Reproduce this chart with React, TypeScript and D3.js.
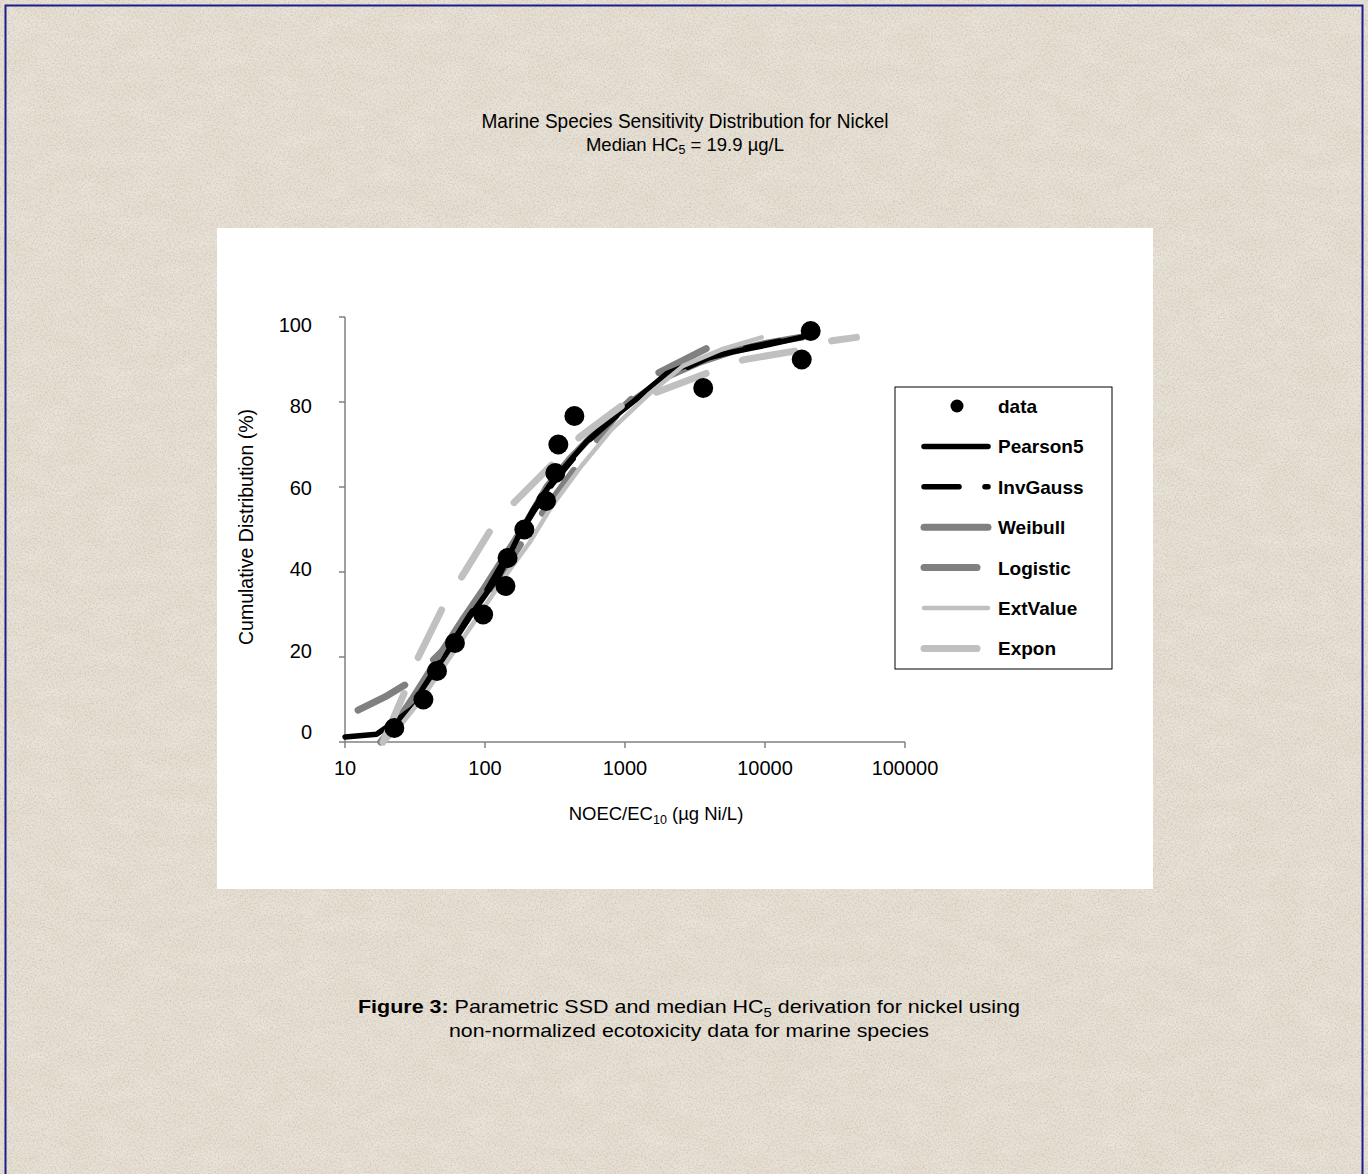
import React from "react";
import * as d3 from "d3";

const W = 1368;
const H = 1174;

// ---- data ----
const xTicks = [10, 100, 1000, 10000, 100000];
const yTicks = [0, 20, 40, 60, 80, 100];

const dataX = [22.5, 36.3, 45.4, 61, 97, 140, 145, 191, 273, 318, 334, 435, 3620, 18300, 21200];
const dataY = [3.3, 10, 16.7, 23.3, 30, 36.7, 43.3, 50, 56.7, 63.3, 70, 76.7, 83.3, 90, 96.7];

const pearson5X = [10, 16.8, 22, 30, 35, 45, 59, 78, 100, 128, 168, 220, 291, 400, 532, 800, 1146, 1986, 3435, 5900, 10280, 18600];
const pearson5Y = [1.2, 1.8, 4.5, 7.8, 10, 16.5, 23.3, 29.5, 34.5, 39.5, 47.5, 54.6, 60.5, 66, 70.7, 76, 80.1, 86.7, 89.9, 91.8, 93.4, 95.3];

const invGaussX = [19, 23, 30, 40, 55, 78, 100, 150, 220, 300, 532, 1000, 2000, 4000, 8000, 16000];
const invGaussY = [0.3, 3.5, 8.5, 15, 22, 30, 35, 45, 54, 60.5, 70.5, 78.5, 86, 90.5, 93, 95];

const weibullX = [18, 22, 30, 40, 50, 70, 100, 150, 200, 276, 400, 600, 1000, 2000, 3500, 6000, 10000, 18600];
const weibullY = [0, 3.5, 10, 16.5, 21.6, 29, 36.5, 45.5, 52, 60, 66.5, 72.5, 79, 86, 89.5, 92, 93.8, 95.3];

const logisticX = [12.4, 19.3, 30, 50, 100, 150, 200, 259, 461, 920, 1720, 4160];
const logisticY = [7.5, 10.6, 14.4, 21.5, 34, 42.5, 49, 54, 65.2, 78, 86.8, 93.2];

const extValueX = [19, 25, 35, 50, 70, 100, 150, 209, 300, 490, 800, 1500, 2600, 5000, 9460];
const extValueY = [0, 4, 10, 17.5, 24.5, 32, 40.5, 47, 55.5, 65, 73.5, 82, 88.5, 92.5, 95.2];

const exponX = [18.7, 27.7, 33.2, 51.8, 68.6, 113, 163, 326, 476, 1080, 1720, 4380, 6960, 17800, 30000, 45000];
const exponY = [0, 13, 19.8, 32.7, 39, 50.6, 56.5, 66.4, 71.8, 80.5, 82.4, 87.5, 89.9, 92.2, 94.4, 95.2];

const seriesNames = ["Pearson5", "InvGauss", "Weibull", "Logistic", "ExtValue", "Expon"];
const seriesXs = [pearson5X, invGaussX, weibullX, logisticX, extValueX, exponX];
const seriesYs = [pearson5Y, invGaussY, weibullY, logisticY, extValueY, exponY];

// ---- styles ----
const seriesStyle: Record<string, { color: string; width: number; dash?: string }> = {
  Pearson5: { color: "#000000", width: 5.5 },
  InvGauss: { color: "#000000", width: 5.5, dash: "35,26" },
  Weibull: { color: "#808080", width: 7 },
  Logistic: { color: "#808080", width: 7, dash: "53,38.5" },
  ExtValue: { color: "#c0c0c0", width: 4.5 },
  Expon: { color: "#c0c0c0", width: 7, dash: "53,38.5" },
};
const drawOrder = ["Weibull", "Logistic", "Pearson5", "InvGauss", "ExtValue", "Expon"];

const fontSans = "'Liberation Sans', Arial, Helvetica, sans-serif";
const fontNarrow = "'Liberation Sans Narrow', 'Arial Narrow', 'Liberation Sans', Arial, sans-serif";

export default function App() {
  const plot = { left: 345, right: 905, top: 317, bottom: 742 };
  const x = d3.scaleLog().domain([10, 100000]).range([plot.left, plot.right]);
  const y = d3.scaleLinear().domain([0, 100]).range([plot.bottom, plot.top]);
  // tick-label placement (labels in the source sit on a slightly tighter spacing)
  const yLab = d3.scaleLinear().domain([0, 100]).range([732, 325]);

  const line = d3
    .line<[number, number]>()
    .x((d) => x(d[0]))
    .y((d) => y(d[1]))
    .curve(d3.curveLinear);

  const paths: Record<string, string> = {};
  seriesNames.forEach((n, i) => {
    const pts = seriesXs[i].map((v, j) => [v, seriesYs[i][j]] as [number, number]);
    paths[n] = line(pts) || "";
  });

  const legend = { x: 895, y: 387, w: 217, h: 282, rowTop: 406, step: 40.4, lineX0: 924, lineX1: 988, textX: 998, dotX: 957 };
  const legendItems = ["data", ...seriesNames];

  return (
    <svg
      width={W}
      height={H}
      viewBox={`0 0 ${W} ${H}`}
      style={{ position: "absolute", left: 0, top: 0, display: "block" }}
    >
      <defs>
        <filter id="paper" x="0" y="0" width="100%" height="100%" filterUnits="userSpaceOnUse">
          <feTurbulence type="fractalNoise" baseFrequency="0.6" numOctaves="3" seed="7" result="n" />
          <feColorMatrix
            in="n"
            type="matrix"
            values="0 0 0 0 0.40  0 0 0 0 0.34  0 0 0 0 0.26  0.8 0 0 0 -0.33"
          />
        </filter>
        <filter id="paper2" x="0" y="0" width="100%" height="100%" filterUnits="userSpaceOnUse">
          <feTurbulence type="fractalNoise" baseFrequency="0.03 0.06" numOctaves="2" seed="3" result="n" />
          <feColorMatrix
            in="n"
            type="matrix"
            values="0 0 0 0 1  0 0 0 0 1  0 0 0 0 1  0.3 0 0 0 -0.1"
          />
        </filter>
      </defs>

      {/* page background */}
      <rect x={0} y={0} width={W} height={H} fill="#e6dfd3" />
      <rect x={0} y={0} width={W} height={H} fill="#fff" filter="url(#paper2)" />
      <rect x={0} y={0} width={W} height={H} fill="#000" filter="url(#paper)" />
      <rect x={5.5} y={5.5} width={1357} height={1200} fill="none" stroke="#1c1c8a" strokeWidth={2} />

      {/* title */}
      <text
        x={685}
        y={128}
        textAnchor="middle"
        fontFamily={fontNarrow}
        fontSize={20}
        fill="#000"
        textLength={407}
        lengthAdjust="spacingAndGlyphs"
      >
        Marine Species Sensitivity Distribution for Nickel
      </text>
      <text x={685} y={151} textAnchor="middle" fontFamily={fontNarrow} fontSize={18.5} fill="#000">
        Median HC
        <tspan dy={3} fontSize={12.5}>5</tspan>
        <tspan dy={-3}> = 19.9 µg/L</tspan>
      </text>

      {/* chart panel */}
      <rect x={217} y={228} width={936} height={661} fill="#ffffff" />

      {/* axes */}
      <g stroke="#808080" strokeWidth={1.5} fill="none">
        <line x1={plot.left} x2={plot.left} y1={plot.top} y2={plot.bottom} />
        <line x1={plot.left} x2={plot.right} y1={plot.bottom} y2={plot.bottom} />
        {yTicks.map((t) => (
          <line key={"yt" + t} x1={plot.left - 6} x2={plot.left} y1={y(t)} y2={y(t)} />
        ))}
        {xTicks.map((t) => (
          <line key={"xt" + t} x1={x(t)} x2={x(t)} y1={plot.bottom} y2={plot.bottom + 6} />
        ))}
      </g>
      {yTicks.map((t) => (
        <text
          key={"yl" + t}
          x={312}
          y={yLab(t) + 7}
          textAnchor="end"
          fontFamily={fontSans}
          fontSize={20}
          fill="#000"
        >
          {t}
        </text>
      ))}
      {xTicks.map((t) => (
        <text
          key={"xl" + t}
          x={x(t)}
          y={775}
          textAnchor="middle"
          fontFamily={fontSans}
          fontSize={20}
          fill="#000"
        >
          {t}
        </text>
      ))}
      <text
        transform={`translate(253,527) rotate(-90)`}
        textAnchor="middle"
        fontFamily={fontNarrow}
        fontSize={20}
        fill="#000"
        textLength={236}
        lengthAdjust="spacingAndGlyphs"
      >
        Cumulative Distribution (%)
      </text>
      <text x={656} y={820} textAnchor="middle" fontFamily={fontNarrow} fontSize={18.5} fill="#000">
        NOEC/EC
        <tspan dy={4} fontSize={12.5}>10</tspan>
        <tspan dy={-4}> (µg Ni/L)</tspan>
      </text>

      {/* series */}
      {drawOrder.map((n) => {
        const s = seriesStyle[n];
        return (
          <path
            key={n}
            d={paths[n]}
            fill="none"
            stroke={s.color}
            strokeWidth={s.width}
            strokeDasharray={s.dash}
            strokeLinecap="round"
            strokeLinejoin="round"
          />
        );
      })}
      {dataX.map((v, i) => (
        <circle key={"p" + i} cx={x(v)} cy={y(dataY[i])} r={10} fill="#000" />
      ))}

      {/* legend */}
      <rect x={legend.x} y={legend.y} width={legend.w} height={legend.h} fill="#fff" stroke="#000" strokeWidth={1} />
      {legendItems.map((n, i) => {
        const cy = legend.rowTop + i * legend.step;
        const s = seriesStyle[n];
        return (
          <g key={"lg" + n}>
            {n === "data" ? (
              <circle cx={legend.dotX} cy={cy} r={6.5} fill="#000" />
            ) : (
              <line
                x1={legend.lineX0}
                x2={legend.lineX1}
                y1={cy}
                y2={cy}
                stroke={s.color}
                strokeWidth={s.width}
                strokeDasharray={s.dash}
                strokeLinecap="round"
              />
            )}
            <text x={legend.textX} y={cy + 7} fontFamily={fontSans} fontWeight="bold" fontSize={19} fill="#000">
              {n}
            </text>
          </g>
        );
      })}

      {/* caption */}
      <text
        x={689}
        y={1013}
        textAnchor="middle"
        fontFamily={fontSans}
        fontSize={19}
        fill="#000"
        textLength={662}
        lengthAdjust="spacingAndGlyphs"
      >
        <tspan fontWeight="bold">Figure 3:</tspan>
        {"  Parametric SSD and median HC"}
        <tspan dy={4} fontSize={13}>5</tspan>
        <tspan dy={-4}> derivation for nickel using</tspan>
      </text>
      <text
        x={689}
        y={1037}
        textAnchor="middle"
        fontFamily={fontSans}
        fontSize={19}
        fill="#000"
        textLength={480}
        lengthAdjust="spacingAndGlyphs"
      >
        non-normalized ecotoxicity data for marine species
      </text>
    </svg>
  );
}
